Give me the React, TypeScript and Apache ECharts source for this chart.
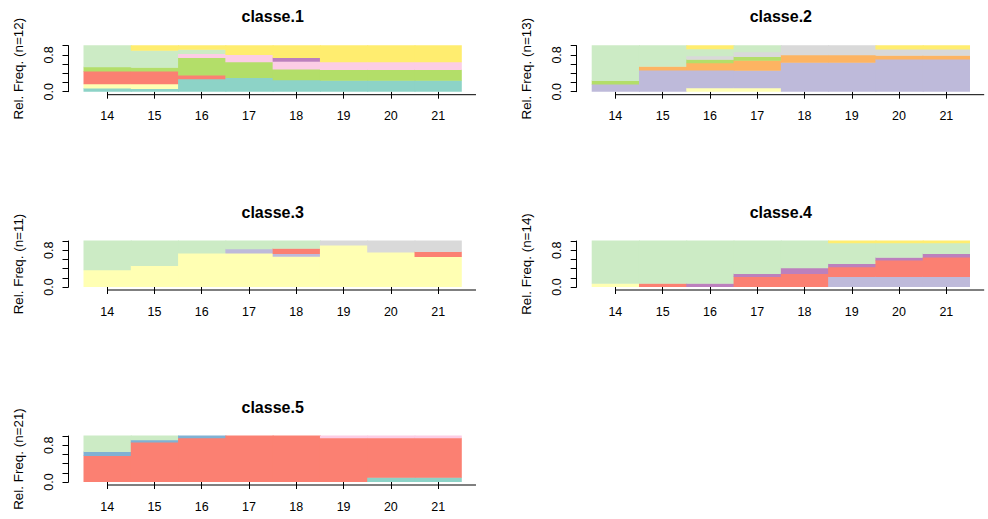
import React, { useEffect, useRef } from "react";
import * as echarts from "echarts";

// ---- data ----
const times = [14, 15, 16, 17, 18, 19, 20, 21];
// RColorBrewer Set3 (12 states, bottom -> top)
const stateColors = [
  "#8DD3C7", "#FFFFB3", "#BEBADA", "#FB8072", "#80B1D3", "#FDB462",
  "#B3DE69", "#FCCDE5", "#D9D9D9", "#BC80BD", "#CCEBC5", "#FFED6F",
];
const panelTitles = ["classe.1", "classe.2", "classe.3", "classe.4", "classe.5"];
const panelN = [12, 13, 11, 14, 21];
const yTickLabels = ["0.0", "0.8"];

// rows = states 0..11, columns = times 14..21 (relative frequencies)
const classe1 = [
  [0.07, 0.06, 0.27, 0.30, 0.25, 0.24, 0.24, 0.24],
  [0.09, 0.10, 0, 0, 0, 0, 0, 0],
  [0, 0, 0, 0, 0, 0, 0, 0],
  [0.28, 0.28, 0.08, 0, 0, 0, 0, 0],
  [0, 0, 0, 0, 0, 0, 0, 0],
  [0, 0, 0, 0, 0, 0, 0, 0],
  [0.09, 0.08, 0.38, 0.34, 0.23, 0.23, 0.23, 0.23],
  [0, 0, 0.09, 0.16, 0.17, 0.17, 0.17, 0.17],
  [0, 0, 0, 0, 0, 0, 0, 0],
  [0, 0, 0, 0, 0.08, 0, 0, 0],
  [0.47, 0.37, 0.09, 0, 0, 0, 0, 0],
  [0, 0.11, 0.09, 0.20, 0.27, 0.36, 0.36, 0.36],
];
const classe2 = [
  [0, 0, 0, 0, 0, 0, 0, 0],
  [0, 0, 0.077, 0.075, 0, 0, 0, 0],
  [0.154, 0.46, 0.385, 0.38, 0.63, 0.63, 0.70, 0.70],
  [0, 0, 0, 0, 0, 0, 0, 0],
  [0, 0, 0, 0, 0, 0, 0, 0],
  [0, 0.08, 0.154, 0.22, 0.16, 0.16, 0.08, 0.08],
  [0.077, 0, 0.077, 0.08, 0, 0, 0, 0],
  [0, 0, 0, 0, 0, 0, 0, 0],
  [0, 0, 0.077, 0.10, 0.21, 0.21, 0.14, 0.14],
  [0, 0, 0, 0, 0, 0, 0, 0],
  [0.769, 0.46, 0.154, 0.145, 0, 0, 0, 0],
  [0, 0, 0.077, 0, 0, 0, 0.08, 0.08],
];
const classe3 = [
  [0, 0, 0, 0, 0, 0, 0, 0],
  [0.364, 0.455, 0.727, 0.73, 0.66, 0.90, 0.75, 0.65],
  [0, 0, 0, 0.09, 0.06, 0, 0, 0],
  [0, 0, 0, 0, 0.11, 0, 0, 0.11],
  [0, 0, 0, 0, 0, 0, 0, 0],
  [0, 0, 0, 0, 0, 0, 0, 0],
  [0, 0, 0, 0, 0, 0, 0, 0],
  [0, 0, 0, 0, 0, 0, 0, 0],
  [0, 0, 0, 0, 0, 0.10, 0.25, 0.24],
  [0, 0, 0, 0, 0, 0, 0, 0],
  [0.636, 0.545, 0.273, 0.18, 0.17, 0, 0, 0],
  [0, 0, 0, 0, 0, 0, 0, 0],
];
const classe4 = [
  [0, 0, 0, 0, 0, 0, 0, 0],
  [0.071, 0, 0, 0, 0, 0, 0, 0],
  [0, 0, 0, 0, 0, 0.22, 0.22, 0.22],
  [0, 0.071, 0, 0.22, 0.285, 0.21, 0.355, 0.42],
  [0, 0, 0, 0, 0, 0, 0, 0],
  [0, 0, 0, 0, 0, 0, 0, 0],
  [0, 0, 0, 0, 0, 0, 0, 0],
  [0, 0, 0, 0, 0, 0, 0, 0],
  [0, 0, 0, 0, 0, 0, 0, 0],
  [0, 0, 0.071, 0.06, 0.125, 0.07, 0.06, 0.08],
  [0.929, 0.929, 0.929, 0.72, 0.59, 0.45, 0.315, 0.23],
  [0, 0, 0, 0, 0, 0.05, 0.05, 0.05],
];
const classe5 = [
  [0, 0, 0, 0, 0, 0, 0.09, 0.09],
  [0, 0, 0, 0, 0, 0, 0, 0],
  [0, 0, 0, 0, 0, 0, 0, 0],
  [0.565, 0.857, 0.952, 1, 1, 0.952, 0.86, 0.86],
  [0.085, 0.048, 0.048, 0, 0, 0, 0, 0],
  [0, 0, 0, 0, 0, 0, 0, 0],
  [0, 0, 0, 0, 0, 0, 0, 0],
  [0, 0, 0, 0, 0.0, 0.048, 0.05, 0.05],
  [0, 0, 0, 0, 0, 0, 0, 0],
  [0, 0, 0, 0, 0, 0, 0, 0],
  [0.35, 0.095, 0, 0, 0, 0, 0, 0],
  [0, 0, 0, 0, 0, 0, 0, 0],
];
const panelData = [classe1, classe2, classe3, classe4, classe5];

// ---- layout ----
const panelLefts = [83.5, 591.7, 83.5, 591.7, 83.5];
const panelTops = [45.7, 45.7, 241, 241, 436];
const panelW = 378.3;
const panelH = 46;
const FONT = "'Liberation Sans', Arial, sans-serif";

function buildStacks(mat: number[][]) {
  const out: number[][] = [];
  times.forEach((t, j) => {
    let cum = 0;
    mat.forEach((row, s) => {
      const v = row[j];
      if (v > 0) {
        out.push([t, cum, cum + v, s]);
        cum += v;
      }
    });
  });
  return out;
}

export default function App() {
  const ref = useRef<HTMLDivElement>(null);
  useEffect(() => {
    if (!ref.current) return;
    const chart = echarts.init(ref.current, undefined, { renderer: "svg" });
    const grids: any[] = [];
    const xAxes: any[] = [];
    const yAxes: any[] = [];
    const series: any[] = [];
    panelData.forEach((mat, i) => {
      grids.push({ left: panelLefts[i], top: panelTops[i], width: panelW, height: panelH });
      xAxes.push({
        gridIndex: i,
        type: "value",
        min: 13.5,
        max: 21.5,
        offset: 3,
        axisLine: { show: false },
        axisTick: { show: true, length: 7, customValues: times, lineStyle: { color: "#000", width: 1 } },
        axisLabel: { customValues: times, margin: 15, fontSize: 12.5, color: "#000", fontFamily: FONT },
        splitLine: { show: false },
      });
      yAxes.push({
        gridIndex: i,
        type: "value",
        min: 0,
        max: 1,
        interval: 0.2,
        offset: 15,
        axisLine: { show: true, lineStyle: { color: "#000", width: 1 } },
        axisTick: { show: true, length: 6, lineStyle: { color: "#000", width: 1 } },
        axisLabel: {
          rotate: 90,
          margin: 13,
          fontSize: 12.5,
          color: "#000",
          fontFamily: FONT,
          formatter: (v: number) =>
            Math.abs(v) < 1e-9 ? yTickLabels[0] : Math.abs(v - 0.8) < 1e-9 ? yTickLabels[1] : "",
        },
        splitLine: { show: false },
        name: `Rel. Freq. (n=${panelN[i]})`,
        nameLocation: "middle",
        nameRotate: 90,
        nameGap: 44,
        nameTextStyle: { fontSize: 13.4, color: "#000", fontFamily: FONT },
      });
      series.push({
        type: "custom",
        xAxisIndex: i,
        yAxisIndex: i,
        data: buildStacks(mat),
        encode: { x: 0, y: [1, 2] },
        renderItem: (_p: any, api: any) => {
          const x = api.value(0);
          const y0 = api.value(1);
          const y1 = api.value(2);
          const s = api.value(3);
          const a = api.coord([x - 0.5, y1]);
          const b = api.coord([x + 0.5, y0]);
          const last = x === times[times.length - 1];
          return {
            type: "rect",
            shape: {
              x: a[0],
              y: a[1] - 0.5,
              width: b[0] - a[0] + (last ? 0 : 1),
              height: b[1] - a[1] + 0.5,
            },
            style: { fill: stateColors[s] },
          };
        },
      });
    });
    chart.setOption({
      animation: false,
      backgroundColor: "#fff",
      grid: grids,
      xAxis: xAxes,
      yAxis: yAxes,
      series,
    });
    const graphics: any[] = [];
    panelData.forEach((_m, i) => {
      const p0 = chart.convertToPixel({ gridIndex: i }, [14, 0]) as number[];
      const p1 = chart.convertToPixel({ gridIndex: i }, [21.8, 0]) as number[];
      const yLine = p0[1] + 3;
      graphics.push({
        type: "line",
        shape: { x1: p0[0], y1: yLine, x2: p1[0], y2: yLine },
        style: { stroke: "#000", lineWidth: 1 },
      });
      graphics.push({
        type: "text",
        x: panelLefts[i] + panelW / 2,
        y: panelTops[i] - 29,
        style: {
          text: panelTitles[i],
          fill: "#000",
          font: `bold 16px ${FONT}`,
          textAlign: "center",
          textVerticalAlign: "middle",
        },
      });
    });
    chart.setOption({ graphic: graphics });
    return () => chart.dispose();
  }, []);
  return (
    <div
      ref={ref}
      style={{ position: "fixed", left: 0, top: 0, width: 988, height: 519, background: "#fff" }}
    />
  );
}
